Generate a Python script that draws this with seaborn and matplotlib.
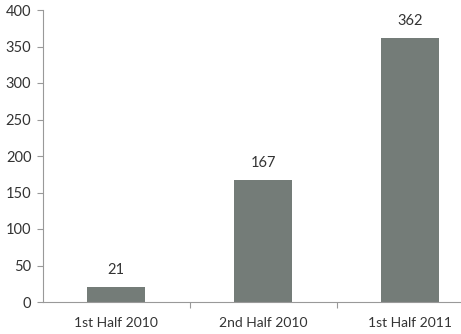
import matplotlib
matplotlib.use("Agg")
import matplotlib.pyplot as plt
import seaborn as sns
import pandas as pd

categories = ["1st Half 2010", "2nd Half 2010", "1st Half 2011"]
values = [21, 167, 362]
yticks = [0, 50, 100, 150, 200, 250, 300, 350, 400]

sns.set_style("white")
plt.rcParams['font.family'] = ['Lato', 'DejaVu Sans']

df = pd.DataFrame({"cat": categories, "val": values})

W, H = 461, 334
fig = plt.figure(figsize=(W/100, H/100), dpi=100)
ax = fig.add_axes([42.5/W, (H-302)/H, (483.5-42.5)/W, (302-10)/H])

sns.barplot(data=df, x="cat", y="val", color="#747c78", width=0.4,
            saturation=1, ax=ax, edgecolor="none")

ax.set_xlim(-0.5, 2.5)
ax.set_ylim(0, 400)
ax.set_yticks(yticks)
ax.set_yticklabels([str(t) for t in yticks], fontsize=10.5, color="#333333")
ax.set_xlabel("")
ax.set_ylabel("")

ax.set_xticks([0.5, 1.5])
ax.set_xticklabels([])
ax.set_xticks([0, 1, 2], minor=True)
ax.set_xticklabels(categories, minor=True, fontsize=10, color="#333333")
ax.tick_params(axis="x", which="minor", length=0, pad=11)
ax.tick_params(axis="x", which="major", direction="out", length=4, color="#999999", width=0.8, bottom=True)
ax.tick_params(axis="y", direction="out", length=4, color="#999999", width=0.8, left=True, pad=4)

for s in ["top", "right"]:
    ax.spines[s].set_visible(False)
for s in ["left", "bottom"]:
    ax.spines[s].set_color("#999999")
    ax.spines[s].set_linewidth(0.8)

for i, v in enumerate(values):
    ax.annotate(str(v), (i, v), xytext=(0, 7), textcoords="offset points",
                ha="center", va="bottom", fontsize=10.5, color="#333333")

fig.savefig("out.png", dpi=100)
